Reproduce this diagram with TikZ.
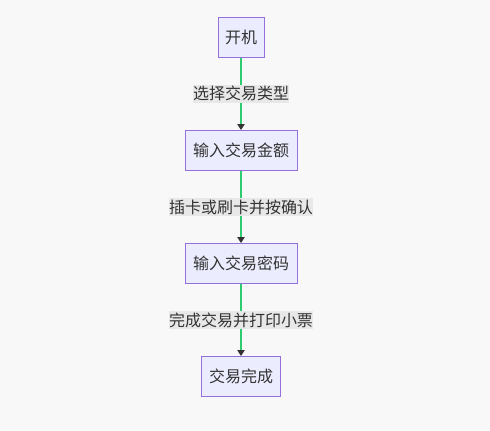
\documentclass[tikz,border=0pt]{standalone}
\usepackage{fontspec}
\newfontfamily\cjk{Noto Sans CJK SC}
\usetikzlibrary{arrows.meta}
\definecolor{bgc}{HTML}{F8F8F8}
\definecolor{nodefill}{HTML}{ECECFF}
\definecolor{nodestroke}{HTML}{9370DB}
\definecolor{edgegreen}{HTML}{2ECC71}
\definecolor{txt}{HTML}{333333}
\definecolor{lblbg}{HTML}{E8E8E8}
\begin{document}
\begin{tikzpicture}[x=0.75pt,y=-0.75pt,
  box/.style={draw=nodestroke,fill=nodefill,line width=0.75pt,inner sep=0pt,
    minimum height=30pt,text=txt,font=\cjk\fontsize{12pt}{14pt}\selectfont},
  lbl/.style={fill=lblbg,inner sep=0pt,minimum height=13.5pt,text=txt,
    font=\cjk\fontsize{12pt}{14pt}\selectfont},
  edge/.style={draw=edgegreen,line width=1.5pt,
    -{Triangle[length=4.5pt,width=5.5pt,color=txt]}}]
\fill[bgc] (0,0) rectangle (490,430);
\useasboundingbox (0,0) rectangle (490,430);
\node[box,minimum width=34.5pt] (n1) at (241,37) {开机};
\node[box,minimum width=84pt] (n2) at (241,150.5) {输入交易金额};
\node[box,minimum width=84pt] (n3) at (241,263.5) {输入交易密码};
\node[box,minimum width=59.25pt] (n4) at (241,376.5) {交易完成};
\draw[edge] (n1) -- (n2) node[midway,lbl] (l1) {选择交易类型};
\draw[edge] (n2) -- (n3) node[midway,lbl] (l2) {插卡或刷卡并按确认};
\draw[edge] (n3) -- (n4) node[midway,lbl] (l3) {完成交易并打印小票};
\end{tikzpicture}
\end{document}
